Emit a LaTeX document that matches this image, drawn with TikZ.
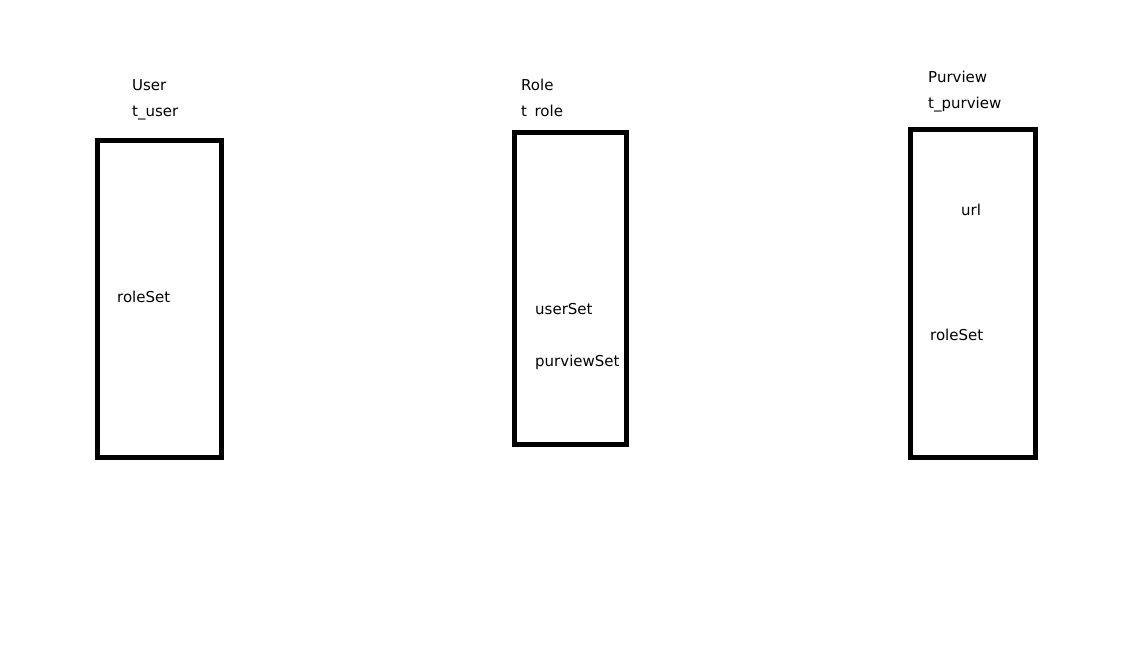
\documentclass[tikz,border=0pt]{standalone}
\usepackage{fontspec}
\setmainfont{DejaVu Sans}
\tikzset{
  tabla/.style={line width=5pt},
  campo/.style={anchor=base west, inner sep=0pt, font=\fontsize{15}{18}\selectfont}
}
\begin{document}
\begin{tikzpicture}[x=1pt,y=-1pt]

  \useasboundingbox (0,0) rectangle (1146,659);

  \draw[tabla] (97.5,140.5) rectangle (221,457.5);
  \draw[tabla] (514.5,132.5) rectangle (626.5,444.5);
  \draw[tabla] (910.5,129.5) rectangle (1035.5,457.5);

  \node[campo] (user)  at (132,90)  {User};
  \node[campo] (tuser) at (132,116) {t\_user};
  \node[campo] (userroles) at (117,302) {roleSet};

  \node[campo] (role)  at (521,90)  {Role};
  \node[campo] (trole) at (521,116) {t\hphantom{\_}role};
  \node[campo] (roleusers)    at (535,314) {userSet};
  \node[campo] (rolepurviews) at (535,366) {purviewSet};

  \node[campo] (purview)  at (928,82)  {Purview};
  \node[campo] (tpurview) at (928,108) {t\_purview};
  \node[campo] (url)      at (961,215) {url};
  \node[campo] (purviewroles) at (930,340) {roleSet};

\end{tikzpicture}
\end{document}
